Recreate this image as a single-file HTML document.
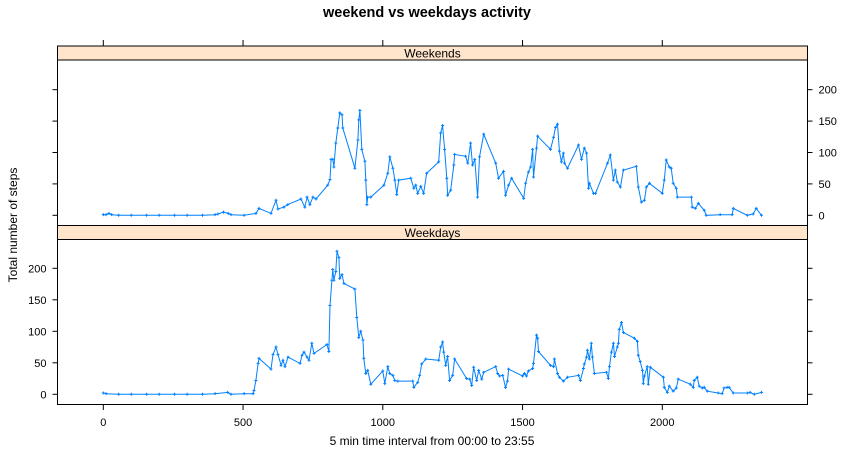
<!DOCTYPE html>
<html><head><meta charset="utf-8"><style>
html,body{margin:0;padding:0;background:#fff;}
svg text{font-family:"Liberation Sans",sans-serif;}
</style></head><body>
<svg id="chart" width="855" height="458" xmlns="http://www.w3.org/2000/svg">
<text x="427" y="17" text-anchor="middle" font-size="14.5" font-weight="bold">weekend vs weekdays activity</text>
<text transform="translate(17,225) rotate(-90)" text-anchor="middle" font-size="12">Total number of steps</text>
<text x="432" y="445" text-anchor="middle" font-size="12">5 min time interval from 00:00 to 23:55</text>
<g id="g"></g>
</svg>
<script>
const xTicks=[0,500,1000,1500,2000];
const yTicks=[0,50,100,150,200];
const panelNames=["Weekends","Weekdays"];
const weekendX=[0,10,20,30,55,100,155,200,255,300,355,400,410,430,447,457,504,546,557,600,618,625,646,660,707,721,729,739,750,761,803,811,815,821,825,832,839,846,854,857,900,911,914,918,925,936,939,943,946,957,1004,1018,1025,1036,1043,1050,1057,1100,1111,1118,1125,1136,1146,1157,1200,1207,1214,1221,1229,1232,1243,1254,1257,1296,1304,1314,1321,1329,1339,1346,1361,1404,1414,1432,1439,1450,1461,1504,1511,1521,1529,1536,1539,1550,1554,1600,1611,1618,1625,1632,1639,1646,1650,1661,1700,1711,1721,1729,1736,1739,1754,1761,1804,1814,1825,1832,1839,1850,1861,1907,1914,1925,1936,1943,1954,2000,2007,2014,2025,2032,2039,2050,2054,2104,2107,2118,2129,2150,2157,2207,2250,2254,2304,2325,2336,2355];
const weekendY=[1,1,3,1,0,0,0,0,0,0,0,1,2,5,3,1,0,3,11,3,24,10,13,17,26,13,29,17,29,26,48,57,89,89,77,115,139,163,160,139,75,120,152,167,105,86,56,17,29,29,48,67,93,75,56,33,56,59,43,48,35,46,35,67,85,131,143,105,59,32,40,80,97,94,83,115,80,89,29,93,129,83,59,70,32,48,59,27,51,69,77,105,61,107,126,105,124,140,145,102,85,99,83,75,112,89,107,99,43,51,35,35,83,96,56,72,53,45,72,78,45,21,24,45,51,35,56,88,77,75,51,43,29,29,13,11,19,8,0,1,1,11,0,2,11,0];
const weekdayX=[0,10,55,100,155,200,255,300,355,400,445,457,504,536,539,546,554,557,600,607,618,625,636,643,650,661,704,711,718,729,736,746,754,800,807,811,818,821,825,832,836,843,846,854,861,900,907,914,921,929,932,939,946,957,1000,1007,1018,1025,1036,1043,1054,1107,1111,1125,1132,1139,1154,1200,1207,1214,1218,1225,1232,1239,1250,1257,1300,1311,1318,1325,1336,1343,1354,1361,1404,1411,1418,1429,1439,1446,1450,1500,1507,1514,1521,1536,1539,1550,1554,1557,1600,1611,1614,1625,1632,1646,1661,1700,1707,1718,1721,1729,1732,1739,1746,1750,1757,1800,1807,1811,1818,1825,1829,1839,1843,1846,1854,1861,1900,1911,1914,1921,1929,1932,1936,1946,1950,1957,2004,2007,2018,2025,2039,2050,2057,2100,2111,2114,2125,2132,2143,2150,2161,2200,2214,2221,2232,2239,2254,2304,2314,2329,2355];
const weekdayY=[2,1,0,0,0,0,0,0,0,1,3,0,1,1,6,22,49,57,40,63,75,63,46,54,44,59,49,62,67,59,54,81,65,79,68,141,181,198,181,195,227,217,184,190,176,167,122,90,100,86,57,33,38,16,37,17,44,33,30,22,21,21,11,19,30,48,56,54,75,83,67,46,60,22,30,56,25,24,14,43,22,38,24,35,44,33,29,30,11,21,40,29,33,29,37,41,49,94,89,68,46,44,56,33,27,21,27,30,22,41,48,59,70,56,81,59,33,35,25,44,67,81,60,75,81,103,114,98,89,84,62,52,38,17,29,44,16,43,27,11,3,13,5,10,24,16,11,22,27,13,10,11,5,2,1,10,11,11,2,2,3,0,3,0];

const NS="http://www.w3.org/2000/svg";
const g=document.getElementById('g');
const L=57.5,R=807.5;
const xs=v=>103.3+v*0.2795;
const panels=[{top:46,strip:14,bottom:225.5,y0:215.3,y200:89.7,xs:weekendX,ys:weekendY,name:panelNames[0]},
              {top:225.5,strip:14,bottom:404.5,y0:394.3,y200:268.3,xs:weekdayX,ys:weekdayY,name:panelNames[1]}];
function el(t,a){const e=document.createElementNS(NS,t);for(const k in a)e.setAttribute(k,a[k]);g.appendChild(e);return e;}
panels.forEach((p,i)=>{
  const ys=v=>p.y0+(p.y200-p.y0)*v/200;
  const s=el('rect',{x:L,y:p.top,width:R-L,height:p.strip,fill:'#ffe5cc',stroke:'#000','stroke-width':1});
  
  
  const st=el('text',{x:(L+R)/2,y:p.top+11.5,'text-anchor':'middle','font-size':12});
  st.textContent=p.name;
  
  
  const f=el('rect',{x:L,y:p.top+p.strip,width:R-L,height:p.bottom-p.top-p.strip,fill:'none',stroke:'#000','stroke-width':1});
  
  
  yTicks.forEach(v=>{
    const y=ys(v);
    el('line',{x1:L-5,x2:L,y1:y,y2:y,stroke:'#000'});
    el('line',{x1:R,x2:R+5,y1:y,y2:y,stroke:'#000'});
    if(i===0){const t=el('text',{x:R+11,y:y+4,'font-size':11});t.textContent=v;
      
      }
    else{const t=el('text',{x:L-11,y:y+4,'font-size':11,'text-anchor':'end'});t.textContent=v;
      
      }
  });
  let d='';
  p.xs.forEach((x,j)=>{d+=(j?'L':'M')+xs(x).toFixed(1)+' '+ys(p.ys[j]).toFixed(1);});
  const line=el('path',{d:d,fill:'none',stroke:'#0080ff','stroke-width':1});
  
  
  let m='';
  p.xs.forEach((x,j)=>{const cx=xs(x),cy=ys(p.ys[j]);m+=`M${cx-1.5} ${cy}h3M${cx} ${cy-1.5}v3`;});
  const mk=el('path',{d:m,stroke:'#0080ff','stroke-width':1,fill:'none'});
  
  
});
xTicks.forEach(v=>{
  const x=xs(v);
  el('line',{x1:x,x2:x,y1:40,y2:46,stroke:'#000'});
  el('line',{x1:x,x2:x,y1:404.5,y2:410,stroke:'#000'});
  const t=el('text',{x:x,y:426,'text-anchor':'middle','font-size':11});t.textContent=v;
  
  
});
</script>
</body></html>
